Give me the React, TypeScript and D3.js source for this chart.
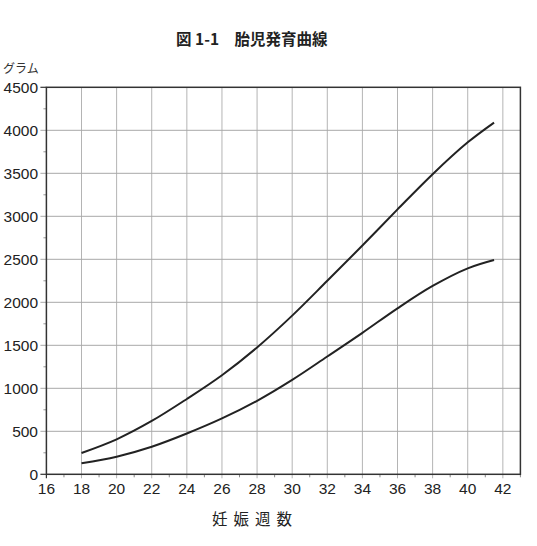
import React from "react";
import * as d3 from "d3";

const weeks = [18, 20, 22, 24, 26, 28, 30, 32, 34, 36, 38, 40, 41.5];
const upperGrams = [248, 407, 620, 876, 1152, 1475, 1845, 2250, 2660, 3080, 3490, 3860, 4090];
const lowerGrams = [128, 205, 321, 475, 650, 855, 1098, 1370, 1645, 1930, 2190, 2395, 2492];
const xTicks = [16, 18, 20, 22, 24, 26, 28, 30, 32, 34, 36, 38, 40, 42];
const yTicks = [0, 500, 1000, 1500, 2000, 2500, 3000, 3500, 4000, 4500];
const titleText = "図 1-1　胎児発育曲線";
const yUnitText = "グラム";
const xAxisText = "妊娠週数";

const W = 537;
const H = 546;
const left = 46.4;
const right = 520.4;
const top = 87.3;
const bottom = 474.3;

export default function App() {
  const x = d3.scaleLinear().domain([16, 43]).range([left, right]);
  const y = d3.scaleLinear().domain([0, 4500]).range([bottom, top]);
  const line = d3
    .line<number>()
    .x((_, i) => x(weeks[i]))
    .y((d) => y(d))
    .curve(d3.curveCatmullRom.alpha(0.5));

  const minorX = d3.range(17, 44, 2);
  const minorY = d3.range(250, 4500, 500);
  const tickFont = "'Liberation Sans', Arial, Helvetica, sans-serif";
  const cjkFont = "'Noto Sans CJK JP', 'Noto Sans', sans-serif";

  return (
    <svg
      width={W}
      height={H}
      viewBox={`0 0 ${W} ${H}`}
      style={{ position: "absolute", left: 0, top: 0, background: "#fff" }}
    >
      <rect x={0} y={0} width={W} height={H} fill="#fff" />
      <text
        x={176}
        y={44.5}
        fontFamily={cjkFont}
        fontWeight={700}
        fontSize={15.5}
        fill="#222"
      >
        {titleText}
      </text>
      <text x={3} y={73} fontFamily={cjkFont} fontSize={12} fill="#333">
        {yUnitText}
      </text>

      {/* grid */}
      {xTicks
        .filter((t) => t > 16)
        .map((t) => (
          <line
            key={"gx" + t}
            x1={x(t)}
            x2={x(t)}
            y1={top}
            y2={bottom + 4}
            stroke="#b4b4b4"
            strokeWidth={1}
          />
        ))}
      {yTicks
        .filter((t) => t > 0 && t < 4500)
        .map((t) => (
          <line
            key={"gy" + t}
            x1={left - 6}
            x2={right}
            y1={y(t)}
            y2={y(t)}
            stroke="#a8a8a8"
            strokeWidth={1}
          />
        ))}
      {/* minor ticks */}
      {minorX.map((t) => (
        <line
          key={"mx" + t}
          x1={x(t)}
          x2={x(t)}
          y1={bottom}
          y2={bottom + 3}
          stroke="#888"
          strokeWidth={1}
        />
      ))}
      {minorY.map((t) => (
        <line
          key={"my" + t}
          x1={left - 3}
          x2={left}
          y1={y(t)}
          y2={y(t)}
          stroke="#999"
          strokeWidth={1}
        />
      ))}
      {/* major tick marks at ends */}
      <line x1={left - 6} x2={left} y1={top} y2={top} stroke="#333" strokeWidth={1.2} />
      <line x1={left - 6} x2={left} y1={bottom} y2={bottom} stroke="#333" strokeWidth={1.2} />
      <line x1={left} x2={left} y1={bottom} y2={bottom + 4} stroke="#333" strokeWidth={1.2} />

      {/* frame */}
      <rect
        x={left}
        y={top}
        width={right - left}
        height={bottom - top}
        fill="none"
        stroke="#333"
        strokeWidth={1.5}
      />

      {/* curves */}
      <path d={line(upperGrams) || ""} fill="none" stroke="#222" strokeWidth={2} />
      <path d={line(lowerGrams) || ""} fill="none" stroke="#222" strokeWidth={2} />

      {/* tick labels */}
      {yTicks.map((t) => (
        <text
          key={"yl" + t}
          x={38}
          y={y(t) + 5.5}
          textAnchor="end"
          fontFamily={tickFont}
          fontSize={15.5}
          fill="#222"
        >
          {t}
        </text>
      ))}
      {xTicks.map((t) => (
        <text
          key={"xl" + t}
          x={x(t)}
          y={493.5}
          textAnchor="middle"
          fontFamily={tickFont}
          fontSize={15.5}
          fill="#222"
        >
          {t}
        </text>
      ))}
      <text
        x={212}
        y={525}
        fontFamily={cjkFont}
        fontSize={15.5}
        letterSpacing={6}
        fill="#222"
      >
        {xAxisText}
      </text>
    </svg>
  );
}
